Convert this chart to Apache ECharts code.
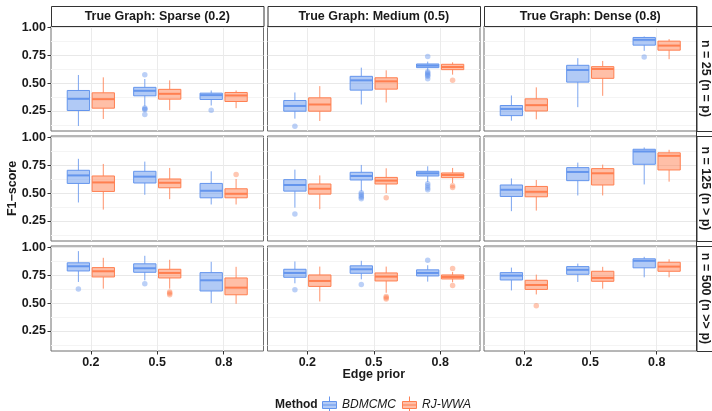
<!DOCTYPE html>
<html>
<head>
<meta charset="utf-8">
<script src="https://cdn.jsdelivr.net/npm/echarts@6/dist/echarts.min.js"></script>
<style>
  html, body { margin: 0; padding: 0; background: #fff; }
  #chart { width: 712px; height: 411px; }
</style>
</head>
<body>
<div id="chart"></div>
<script>
// ---------------- DATA ----------------
const edgePriors = ['0.2', '0.5', '0.8'];
const graphTypes = ['True Graph: Sparse (0.2)', 'True Graph: Medium (0.5)', 'True Graph: Dense (0.8)'];
const sampleSizes = ['n = 25 (n = p)', 'n = 125 (n > p)', 'n = 500 (n >> p)'];
const methods = ['BDMCMC', 'RJ-WWA'];
const yTickValues = [0.25, 0.5, 0.75, 1.0];
const yMinorValues = [0.125, 0.375, 0.625, 0.875];

// five-number summaries [lower whisker, Q1, median, Q3, upper whisker]
// order: Sparse(0.2,0.5,0.8), Medium(0.2,0.5,0.8), Dense(0.2,0.5,0.8)
const bdmcmcN25 = [
  [0.115, 0.254, 0.359, 0.434, 0.573], [0.295, 0.386, 0.431, 0.462, 0.537], [0.299, 0.353, 0.392, 0.410, 0.434],
  [0.181, 0.248, 0.295, 0.344, 0.416], [0.308, 0.437, 0.525, 0.561, 0.639], [0.612, 0.639, 0.657, 0.672, 0.693],
  [0.163, 0.208, 0.268, 0.299, 0.389], [0.284, 0.509, 0.618, 0.660, 0.724], [0.790, 0.841, 0.889, 0.910, 0.919]
];
const bdmcmcN125 = [
  [0.416, 0.587, 0.659, 0.705, 0.808], [0.485, 0.591, 0.648, 0.696, 0.783], [0.398, 0.458, 0.521, 0.587, 0.696],
  [0.370, 0.518, 0.573, 0.621, 0.711], [0.518, 0.618, 0.654, 0.687, 0.753], [0.600, 0.654, 0.678, 0.696, 0.741],
  [0.338, 0.470, 0.530, 0.573, 0.632], [0.479, 0.612, 0.690, 0.729, 0.774], [0.578, 0.759, 0.874, 0.894, 0.910]
];
const bdmcmcN500 = [
  [0.690, 0.789, 0.831, 0.862, 0.967], [0.705, 0.777, 0.813, 0.853, 0.925], [0.500, 0.609, 0.705, 0.774, 0.871],
  [0.678, 0.732, 0.771, 0.804, 0.874], [0.714, 0.768, 0.804, 0.835, 0.880], [0.693, 0.744, 0.771, 0.799, 0.840],
  [0.614, 0.708, 0.747, 0.774, 0.819], [0.690, 0.759, 0.799, 0.828, 0.855], [0.732, 0.817, 0.880, 0.898, 0.916]
];
const rjwwaN25 = [
  [0.178, 0.275, 0.356, 0.413, 0.552], [0.257, 0.356, 0.404, 0.444, 0.525], [0.275, 0.335, 0.389, 0.416, 0.434],
  [0.160, 0.248, 0.308, 0.368, 0.473], [0.326, 0.446, 0.516, 0.548, 0.615], [0.576, 0.621, 0.645, 0.669, 0.687],
  [0.175, 0.250, 0.302, 0.359, 0.462], [0.386, 0.543, 0.627, 0.648, 0.699], [0.715, 0.796, 0.837, 0.877, 0.895]
];
const rjwwaN125 = [
  [0.352, 0.515, 0.596, 0.654, 0.762], [0.446, 0.548, 0.593, 0.627, 0.726], [0.398, 0.458, 0.494, 0.539, 0.627],
  [0.356, 0.491, 0.539, 0.582, 0.659], [0.500, 0.582, 0.612, 0.641, 0.723], [0.591, 0.639, 0.663, 0.681, 0.726],
  [0.343, 0.467, 0.512, 0.560, 0.618], [0.479, 0.573, 0.678, 0.720, 0.756], [0.603, 0.708, 0.835, 0.862, 0.889]
];
const rjwwaN500 = [
  [0.630, 0.735, 0.786, 0.819, 0.907], [0.630, 0.726, 0.771, 0.804, 0.889], [0.494, 0.575, 0.639, 0.726, 0.826],
  [0.515, 0.650, 0.699, 0.753, 0.828], [0.593, 0.699, 0.738, 0.771, 0.828], [0.687, 0.717, 0.735, 0.753, 0.780],
  [0.578, 0.623, 0.663, 0.705, 0.756], [0.630, 0.696, 0.726, 0.786, 0.826], [0.732, 0.786, 0.828, 0.867, 0.894]
];

// outliers: [sample-size index, graph index, edge-prior index, F1-score]
const bdmcmcOutliers = [
  [0, 0, 1, 0.575], [0, 0, 1, 0.277], [0, 0, 1, 0.268], [0, 0, 1, 0.263], [0, 0, 1, 0.218],
  [0, 0, 2, 0.257], [0, 1, 0, 0.112],
  [0, 1, 2, 0.738], [0, 1, 2, 0.603], [0, 1, 2, 0.590], [0, 1, 2, 0.582], [0, 1, 2, 0.570], [0, 1, 2, 0.561], [0, 1, 2, 0.539],
  [0, 2, 2, 0.735],
  [1, 1, 0, 0.313],
  [1, 1, 1, 0.503], [1, 1, 1, 0.490], [1, 1, 1, 0.475], [1, 1, 1, 0.464], [1, 1, 1, 0.450],
  [1, 1, 2, 0.585], [1, 1, 2, 0.566], [1, 1, 2, 0.546], [1, 1, 2, 0.530],
  [2, 0, 0, 0.627], [2, 0, 1, 0.675],
  [2, 1, 0, 0.621], [2, 1, 1, 0.668], [2, 1, 2, 0.885]
];
const rjwwaOutliers = [
  [0, 1, 2, 0.525],
  [1, 0, 2, 0.668],
  [1, 1, 1, 0.458], [1, 1, 2, 0.566], [1, 1, 2, 0.551],
  [2, 0, 1, 0.600], [2, 0, 1, 0.588], [2, 0, 1, 0.575],
  [2, 1, 1, 0.560], [2, 1, 1, 0.548], [2, 1, 1, 0.537],
  [2, 1, 2, 0.810], [2, 1, 2, 0.659],
  [2, 2, 0, 0.476]
];

// ---------------- LAYOUT / STYLE ----------------
const FONT = '"Liberation Sans", Arial, Helvetica, sans-serif';
const TEXT_COLOR = '#1a1a1a';
const colLeft = [51, 267.5, 484];
const colW = 212.5;
const rowTop = [26, 136, 246];
const rowH = 105;
const Y_MIN = 0.07, Y_MAX = 1.013;
const X_MIN = 0.4, X_MAX = 3.6;
const DODGE = 0.1875;
const HALF_BOX = 0.168;
const methodLine = ['#6495ED', '#FF7F50'];
const methodFill = ['rgba(100,149,237,0.5)', 'rgba(255,127,80,0.5)'];
const methodPoint = ['rgba(100,149,237,0.55)', 'rgba(255,127,80,0.55)'];
const statsByMethod = [
  [bdmcmcN25, bdmcmcN125, bdmcmcN500],
  [rjwwaN25, rjwwaN125, rjwwaN500]
];
const outliersByMethod = [bdmcmcOutliers, rjwwaOutliers];

function renderBox(m) {
  const color = methodLine[m], fill = methodFill[m];
  return function (params, api) {
    const x = api.value(0);
    const cx = api.coord([x, api.value(3)])[0];
    const xl = api.coord([x - HALF_BOX, Y_MIN])[0];
    const xr = api.coord([x + HALF_BOX, Y_MIN])[0];
    const py = i => api.coord([x, api.value(i)])[1];
    const yLo = py(1), yQ1 = py(2), yMed = py(3), yQ3 = py(4), yHi = py(5);
    const wStyle = { stroke: color, lineWidth: 1, opacity: 0.85 };
    return {
      type: 'group',
      children: [
        { type: 'line', shape: { x1: cx, y1: yHi, x2: cx, y2: yQ3 }, style: wStyle },
        { type: 'line', shape: { x1: cx, y1: yQ1, x2: cx, y2: yLo }, style: wStyle },
        { type: 'rect', shape: { x: xl, y: yQ3, width: xr - xl, height: yQ1 - yQ3 },
          style: { fill: fill, stroke: color, lineWidth: 1 } },
        { type: 'line', shape: { x1: xl, y1: yMed, x2: xr, y2: yMed },
          style: { stroke: color, lineWidth: 2 } }
      ]
    };
  };
}

const grids = [], xAxes = [], yAxes = [], series = [], graphics = [];

for (let r = 0; r < 3; r++) {
  for (let c = 0; c < 3; c++) {
    const gi = r * 3 + c;
    grids.push({
      left: colLeft[c], top: rowTop[r], width: colW, height: rowH,
      show: true, backgroundColor: '#fff', borderColor: '#6e6e6e', borderWidth: 1,
      containLabel: false, outerBoundsMode: 'none'
    });
    const bottomRow = r === 2;
    xAxes.push({
      type: 'value', gridIndex: gi, min: X_MIN, max: X_MAX,
      axisLine: { show: false },
      axisTick: { show: bottomRow, length: 3.5, customValues: [1, 2, 3],
        lineStyle: { color: '#333', width: 1 } },
      axisLabel: { show: bottomRow, customValues: [1, 2, 3], margin: 5,
        formatter: v => edgePriors[Math.round(v) - 1],
        fontFamily: FONT, fontWeight: 'bold', fontSize: 12.5, color: TEXT_COLOR },
      splitLine: { show: true, lineStyle: { color: '#ebebeb', width: 1 } }
    });
    const yA = yAxes.length;
    const gridVals = [];
    for (let k = 0; k < 4; k++) { gridVals.push(yMinorValues[k], yTickValues[k]); }
    yAxes.push({
      type: 'value', gridIndex: gi, min: Y_MIN, max: Y_MAX, position: 'right',
      axisLine: { show: false },
      axisTick: { show: false, customValues: gridVals },
      axisLabel: { show: false, customValues: gridVals },
      splitLine: { show: true, lineStyle: { color: ['#f4f4f4', '#e8e8e8'], width: 1 } }
    });
    if (c === 0) {
      yAxes.push({
        type: 'value', gridIndex: gi, min: Y_MIN, max: Y_MAX, position: 'left',
        axisLine: { show: false },
        axisTick: { show: true, length: 3.5, customValues: yTickValues,
          lineStyle: { color: '#333', width: 1 } },
        axisLabel: { show: true, customValues: yTickValues, margin: 5,
          formatter: v => v.toFixed(2),
          fontFamily: FONT, fontWeight: 'bold', fontSize: 12.5, color: TEXT_COLOR },
        splitLine: { show: false }
      });
    }
    for (let m = 0; m < 2; m++) {
      const offset = m === 0 ? -DODGE : DODGE;
      const stats = statsByMethod[m][r];
      const data = edgePriors.map((_, p) => [p + 1 + offset].concat(stats[c * 3 + p]));
      series.push({
        type: 'custom', name: methods[m], xAxisIndex: gi, yAxisIndex: yA,
        renderItem: renderBox(m), encode: { x: 0, y: [1, 2, 3, 4, 5] },
        data: data, clip: true, z: 3
      });
      const pts = outliersByMethod[m]
        .filter(o => o[0] === r && o[1] === c)
        .map(o => [o[2] + 1 + offset, o[3]]);
      series.push({
        type: 'scatter', name: methods[m], xAxisIndex: gi, yAxisIndex: yA,
        data: pts, symbol: 'circle', symbolSize: 5.5,
        itemStyle: { color: methodPoint[m] }, z: 4, silent: true
      });
    }
  }
}

// top strips
for (let c = 0; c < 3; c++) {
  graphics.push({
    type: 'rect', left: colLeft[c], top: 6,
    shape: { x: 0, y: 0, width: colW, height: 20 },
    style: { fill: '#fff', stroke: '#333', lineWidth: 1 }, z: 10
  });
  graphics.push({
    type: 'text', x: colLeft[c] + colW / 2, y: 16.5,
    style: { text: graphTypes[c], align: 'center', verticalAlign: 'middle',
      fontFamily: FONT, fontWeight: 'bold', fontSize: 12.5, fill: TEXT_COLOR }, z: 11
  });
}
// right strips
const stripX = colLeft[2] + colW;
for (let r = 0; r < 3; r++) {
  graphics.push({
    type: 'rect', left: stripX, top: rowTop[r],
    shape: { x: 0, y: 0, width: 40, height: rowH },
    style: { fill: '#fff', stroke: '#333', lineWidth: 1 }, z: 10
  });
  graphics.push({
    type: 'text', x: 705.5, y: rowTop[r] + rowH / 2, rotation: -Math.PI / 2,
    style: { text: sampleSizes[r], align: 'center', verticalAlign: 'middle',
      fontFamily: FONT, fontWeight: 'bold', fontSize: 12.5, fill: TEXT_COLOR }, z: 11
  });
}
graphics.push({
  type: 'line', shape: { x1: stripX, y1: 6, x2: stripX, y2: rowTop[2] + rowH },
  style: { stroke: '#333', lineWidth: 1 }, z: 12
});
// axis titles
graphics.push({
  type: 'text', x: 12.5, y: rowTop[0] + (rowTop[2] + rowH - rowTop[0]) / 2, rotation: Math.PI / 2,
  style: { text: 'F1\u2212score', align: 'center', verticalAlign: 'middle',
    fontFamily: FONT, fontWeight: 'bold', fontSize: 12.5, fill: TEXT_COLOR }, z: 11
});
graphics.push({
  type: 'text', x: (colLeft[0] + stripX) / 2, y: 374.5,
  style: { text: 'Edge prior', align: 'center', verticalAlign: 'middle',
    fontFamily: FONT, fontWeight: 'bold', fontSize: 12.5, fill: TEXT_COLOR }, z: 11
});
graphics.push({
  type: 'text', x: 275, y: 404.5,
  style: { text: 'Method', align: 'left', verticalAlign: 'middle',
    fontFamily: FONT, fontWeight: 'bold', fontSize: 12, fill: TEXT_COLOR }, z: 11
});

const boxIcon = 'path://M0,5H14V12H0Z M0,8.5H14 M7,0V5 M7,12V17';

const option = {
  animation: false,
  backgroundColor: '#fff',
  grid: grids,
  xAxis: xAxes,
  yAxis: yAxes,
  series: series,
  graphic: graphics,
  legend: {
    left: 322, top: 396, orient: 'horizontal', padding: 0,
    itemWidth: 15, itemHeight: 17, itemGap: 6, selectedMode: false,
    textStyle: { fontFamily: FONT, fontStyle: 'italic', fontSize: 12, color: TEXT_COLOR },
    data: methods.map((name, m) => ({
      name: name, icon: boxIcon,
      itemStyle: { color: methodFill[m], borderColor: methodLine[m], borderWidth: 1 }
    }))
  }
};

const chart = echarts.init(document.getElementById('chart'), null, { renderer: 'canvas' });
chart.setOption(option);
</script>
</body>
</html>
